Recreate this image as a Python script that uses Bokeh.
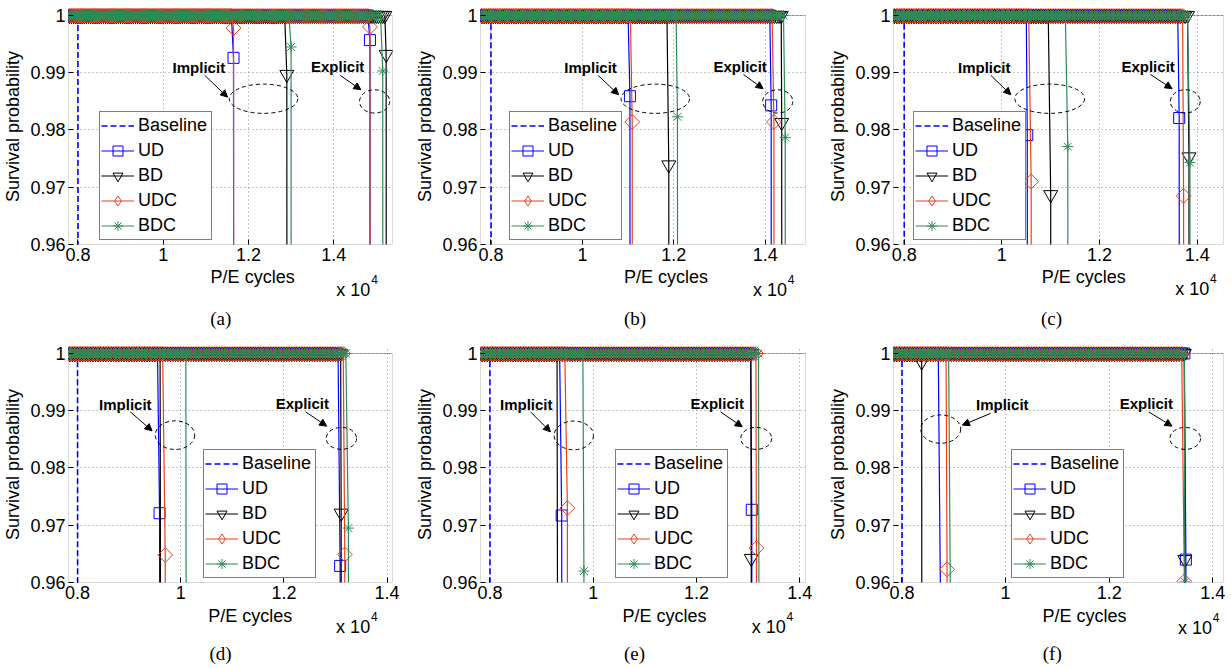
import numpy as np
from bokeh.plotting import figure
from bokeh.layouts import gridplot
from bokeh.models import (Range1d, FixedTicker, Legend, LegendItem, Label, Arrow,
                          NormalHead, BoxAnnotation)
from bokeh.embed import file_html
from bokeh.resources import INLINE

# ---------------- data ----------------
PANEL_LABELS = ["(a)", "(b)", "(c)", "(d)", "(e)", "(f)"]
METHODS = ["UD", "BD", "UDC", "BDC"]

PE_START = 7800          # first sampled P/E cycle
PE_STEP = 50             # sampling interval of P/E cycles
BASELINE_LAST_PE = 8000  # baseline survives up to this cycle count
POST_FAIL_P = 0.0        # survival after the failure sample

# failure sample (cycles, survival probability) for each panel (a)..(f)
UD_IMP_PE = [11650, 11040, 10520, 9590, 9390, 8750]
UD_IMP_P = [0.9926, 0.9859, 0.9791, 0.9721, 0.9717, 0.950]
BD_IMP_PE = [12900, 11890, 11000, 9610, 9310, 8380]
BD_IMP_P = [0.9897, 0.9739, 0.9687, 0.950, 0.950, 0.9985]
UDC_IMP_PE = [11650, 11090, 10600, 9700, 9500, 8870]
UDC_IMP_P = [0.9978, 0.9814, 0.9710, 0.9648, 0.9730, 0.9623]
BDC_IMP_PE = [13000, 12080, 11350, 10105, 9820, 8940]
BDC_IMP_P = [0.9945, 0.9823, 0.9771, 0.950, 0.9620, 0.950]

UD_EXP_PE = [14850, 14130, 13630, 13090, 13070, 13480]
UD_EXP_P = [0.9957, 0.9843, 0.9821, 0.9629, 0.9727, 0.9640]
BD_EXP_PE = [15230, 14360, 13830, 13110, 13060, 13460]
BD_EXP_P = [0.9932, 0.9813, 0.9753, 0.9721, 0.9642, 0.9640]
UDC_EXP_PE = [14850, 14190, 13720, 13180, 13160, 13450]
UDC_EXP_P = [0.9980, 0.9814, 0.9685, 0.9649, 0.9660, 0.9602]
BDC_EXP_PE = [15150, 14437, 13850, 13250, 13210, 13460]
BDC_EXP_P = [0.9903, 0.9787, 0.9743, 0.9695, 0.950, 0.9601]

FAIL = {
    "UD": ((UD_IMP_PE, UD_IMP_P), (UD_EXP_PE, UD_EXP_P)),
    "BD": ((BD_IMP_PE, BD_IMP_P), (BD_EXP_PE, BD_EXP_P)),
    "UDC": ((UDC_IMP_PE, UDC_IMP_P), (UDC_EXP_PE, UDC_EXP_P)),
    "BDC": ((BDC_IMP_PE, BDC_IMP_P), (BDC_EXP_PE, BDC_EXP_P)),
}

X_TICKS = [8000, 10000, 12000, 14000]
X_TICK_LABELS = ["0.8", "1", "1.2", "1.4"]
Y_TICKS = [0.96, 0.97, 0.98, 0.99, 1.0]
Y_TICK_LABELS = ["0.96", "0.97", "0.98", "0.99", "1"]
X_LABEL = "P/E cycles"
Y_LABEL = "Survival probability"

X_RANGES = [(7779, 15379), (7771, 14881), (7782, 14537),
            (7825, 14105), (7818, 14110), (7836, 14206)]
Y_MIN, Y_TOP, RANGE_TOP = 0.96, 1.0, 1.00122

# annotation positions (data units)
IMPL_TEXT = [(10837, 0.99098), (10180, 0.99098), (9639, 0.99098),
             (8926, 0.99115), (8703, 0.99115), (9936, 0.99115)]
EXPL_TEXT = [(14092, 0.99115), (13451, 0.99115), (12994, 0.99115),
             (12357, 0.99127), (12401, 0.99127), (12717, 0.99127)]
IMPL_ARROW = [(10975, 0.98953, 11510, 0.98574), (10343, 0.98953, 10793, 0.98616),
              (9776, 0.98953, 10184, 0.98616), (9023, 0.98981, 9445, 0.98649),
              (8786, 0.98981, 9173, 0.98632), (9711, 0.98953, 9166, 0.98749)]
EXPL_ARROW = [(14154, 0.98953, 14637, 0.98703), (13524, 0.98970, 13953, 0.98721),
              (13041, 0.98970, 13484, 0.98721), (12421, 0.98981, 12829, 0.98731),
              (12465, 0.98981, 12885, 0.98719), (12761, 0.98981, 13212, 0.98731)]
IMPL_ELL = [(12354, 0.98546, 1609, 0.00511), (11595, 0.98546, 1501, 0.00511),
            (10980, 0.98546, 1429, 0.00511), (9889, 0.98574, 763, 0.00501),
            (9624, 0.98569, 761, 0.00501), (8748, 0.98679, 771, 0.00494)]
EXPL_ELL = [(14959, 0.98499, 706, 0.00407), (14274, 0.98499, 658, 0.00407),
            (13755, 0.98499, 612, 0.00407), (13115, 0.98517, 588, 0.00384),
            (13156, 0.98517, 600, 0.00384), (13468, 0.98517, 592, 0.00384)]

# ---------------- layout / style (page pixels) ----------------
FIG_LEFT = [0, 410, 820]
FIG_W = [410, 410, 411]
MAIN_H = 268
FRAME_TOP = 8
FRAME_H = 236
LOWER_H = [70, 62]
LOWER_TOP = [268, 606]
MIN_LEFT = [68, 68, 72, 68, 70, 73]
MIN_RIGHT = [12, 10, 8, 18, 15, 8]
LEGEND_LOC = [(31, 4), (29, 4), (20, 4), (135, 4), (135, 4), (118, 4)]

XLABEL_POS = [(233, 276.5), (644, 276.5), (1057, 276.5), (230, 615.5), (642, 615.5), (1058, 615.5)]
EXPO_POS = [(382, 289), (796.7, 289), (1213.3, 288.5), (381.7, 626.7), (795, 626.7), (1216.7, 627.2)]
CAPTION_POS = [(192.7, 318.3), (605, 318.3), (1016.7, 318.3), (192.3, 653.3), (604.3, 653.3), (1017.7, 653.3)]

COLORS = {"Baseline": "#0000FF", "UD": "#0000FF", "BD": "#000000",
          "UDC": "#E8401C", "BDC": "#2E8B57"}
MARKER = {"UD": "square", "BD": "inverted_triangle", "UDC": "square", "BDC": "asterisk"}
MSIZE = {"UD": 11, "BD": 14, "UDC": 10.5, "BDC": 11}
MANGLE = {"UD": 0.0, "BD": 0.0, "UDC": np.pi / 4, "BDC": 0.0}
FONT = "Liberation Sans"


def curve(fail_pe, fail_p):
    xs = [float(v) for v in np.arange(PE_START, fail_pe, PE_STEP)]
    ys = [1.0] * len(xs)
    xs += [fail_pe, fail_pe + PE_STEP]
    ys += [fail_p, POST_FAIL_P]
    return xs, ys


def make_panel(i):
    row, col = divmod(i, 3)
    p = figure(width=FIG_W[col], height=MAIN_H,
               x_range=Range1d(*X_RANGES[i]), y_range=Range1d(Y_MIN, RANGE_TOP),
               output_backend="svg", toolbar_location=None, tools="",
               min_border_left=MIN_LEFT[i], min_border_right=MIN_RIGHT[i],
               min_border_top=FRAME_TOP, min_border_bottom=MAIN_H - FRAME_TOP - FRAME_H)
    p.outline_line_color = None
    p.background_fill_color = "white"
    p.border_fill_color = "white"

    p.xaxis.ticker = FixedTicker(ticks=X_TICKS)
    p.xaxis.major_label_overrides = dict(zip(X_TICKS, X_TICK_LABELS))
    p.yaxis.ticker = FixedTicker(ticks=Y_TICKS)
    p.yaxis.major_label_overrides = dict(zip(Y_TICKS, Y_TICK_LABELS))
    for ax in (p.xaxis[0], p.yaxis[0]):
        ax.axis_line_color = None
        ax.major_tick_in = 5
        ax.major_tick_out = 0
        ax.major_tick_line_color = "black"
        ax.minor_tick_line_color = None
        ax.major_label_text_font = FONT
        ax.major_label_text_font_size = "18px"
        ax.major_label_text_color = "black"
        ax.axis_label_text_font = FONT
        ax.axis_label_text_font_size = "18px"
        ax.axis_label_text_font_style = "normal"
        ax.axis_label_text_color = "black"
    p.yaxis.axis_label = Y_LABEL
    p.xaxis.major_label_standoff = 3
    p.yaxis.major_label_standoff = 3
    p.yaxis.axis_label_standoff = 4

    for g, ticks in ((p.xgrid[0], X_TICKS), (p.ygrid[0], Y_TICKS)):
        g.ticker = FixedTicker(ticks=ticks)
        g.grid_line_color = "#8a8a8a"
        g.grid_line_dash = "1 3"
        g.grid_line_width = 1

    p.add_layout(BoxAnnotation(left=X_RANGES[i][0], right=X_RANGES[i][1],
                               bottom=Y_MIN, top=Y_TOP, fill_color=None,
                               line_color="black", line_width=1, level="underlay"))

    # baseline
    bx = [float(v) for v in np.arange(PE_START, BASELINE_LAST_PE + 1, PE_STEP)]
    by = [1.0] * len(bx)
    bx.append(BASELINE_LAST_PE + PE_STEP)
    by.append(POST_FAIL_P)
    bl = p.line(bx, by, line_color=COLORS["Baseline"], line_width=1.6, line_dash="6 3")
    items = [LegendItem(label="Baseline", renderers=[bl])]

    for m in METHODS:
        first = None
        for (pe_arr, p_arr) in FAIL[m]:
            xs, ys = curve(pe_arr[i], p_arr[i])
            lr = p.line(xs, ys, line_color=COLORS[m], line_width=1.2)
            sr = p.scatter(xs, ys, marker=MARKER[m], size=MSIZE[m], angle=MANGLE[m],
                           line_color=COLORS[m], fill_color=None, line_width=1)
            if first is None:
                first = [lr, sr]
                if m == "UDC":
                    # legend icon as an upright diamond (legend ignores marker angle);
                    # drawn only at the post-failure sample, which is off-scale
                    proxy = p.scatter(xs[-1:], ys[-1:], marker="diamond",
                                      line_color=COLORS[m], fill_color=None, line_width=1)
                    first = [lr, proxy]
        items.append(LegendItem(label=m, renderers=first))

    for (tx, ty), word in ((IMPL_TEXT[i], "Implicit"), (EXPL_TEXT[i], "Explicit")):
        p.add_layout(Label(x=tx, y=ty, text=word, text_font=FONT, text_font_size="15px",
                           text_font_style="bold", text_align="center",
                           text_baseline="middle", text_color="black"))
    for (x0, y0, x1, y1) in (IMPL_ARROW[i], EXPL_ARROW[i]):
        p.add_layout(Arrow(x_start=x0, y_start=y0, x_end=x1, y_end=y1, line_width=1,
                           line_color="black",
                           end=NormalHead(size=7, fill_color="black", line_color="black")))
    p.ellipse(x=[IMPL_ELL[i][0], EXPL_ELL[i][0]], y=[IMPL_ELL[i][1], EXPL_ELL[i][1]],
              width=[IMPL_ELL[i][2], EXPL_ELL[i][2]], height=[IMPL_ELL[i][3], EXPL_ELL[i][3]],
              fill_color=None, line_color="black", line_dash="4 3", line_width=1)

    legend = Legend(items=items, location=LEGEND_LOC[i], border_line_color="black",
                    border_line_width=1, background_fill_color="white",
                    background_fill_alpha=1.0, label_text_font=FONT,
                    label_text_font_size="18px", label_text_color="black",
                    glyph_width=33, glyph_height=25, label_height=25, label_width=72,
                    label_standoff=4, spacing=0, padding=1, margin=0)
    p.add_layout(legend)
    return p


def make_lower(i):
    row, col = divmod(i, 3)
    w, h = FIG_W[col], LOWER_H[row]
    q = figure(width=w, height=h, x_range=Range1d(0, w), y_range=Range1d(0, h),
               x_axis_type=None, y_axis_type=None, output_backend="svg",
               toolbar_location=None, tools="", min_border=0)
    q.outline_line_color = None
    q.background_fill_color = "white"
    q.border_fill_color = "white"
    left, top = FIG_LEFT[col], LOWER_TOP[row]

    def loc(px, py):
        return px - left, top + h - py

    x, y = loc(*XLABEL_POS[i])
    q.add_layout(Label(x=x, y=y, text=X_LABEL, text_font=FONT, text_font_size="18px",
                       text_align="center", text_baseline="middle", text_color="black"))
    x, y = loc(*EXPO_POS[i])
    q.add_layout(Label(x=x, y=y, text="x 10", text_font=FONT, text_font_size="18px",
                       text_align="right", text_baseline="alphabetic", text_color="black"))
    q.add_layout(Label(x=x + 1, y=y + 10.5, text="4", text_font=FONT, text_font_size="12px",
                       text_align="left", text_baseline="alphabetic", text_color="black"))
    x, y = loc(*CAPTION_POS[i])
    q.add_layout(Label(x=x, y=y, text=PANEL_LABELS[i], text_font="Liberation Serif",
                       text_font_size="19px", text_align="center", text_baseline="middle",
                       text_color="black"))
    return q


mains = [make_panel(i) for i in range(6)]
lowers = [make_lower(i) for i in range(6)]
grid = gridplot([mains[0:3], lowers[0:3], mains[3:6], lowers[3:6]], toolbar_location=None)
open("out.html", "w").write(file_html(grid, INLINE))
